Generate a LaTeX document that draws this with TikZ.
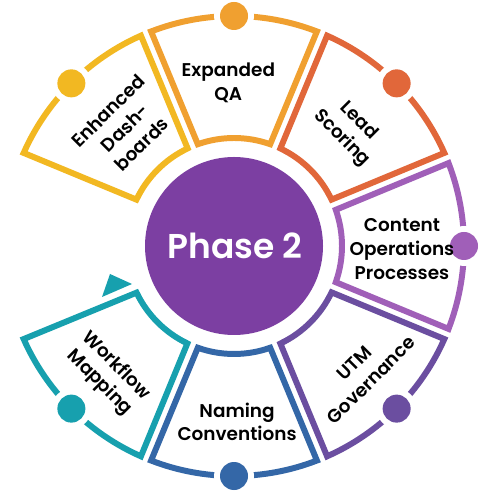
\documentclass[tikz,border=0pt]{standalone}
\usepackage{fontspec}
\setmainfont{Poppins}[BoldFont={Poppins SemiBold}]
\definecolor{dashyellow}{HTML}{F2B822}
\definecolor{qaorange}{HTML}{F0A030}
\definecolor{leadred}{HTML}{E1673A}
\definecolor{contentlilac}{HTML}{A05FB8}
\definecolor{utmviolet}{HTML}{6B4EA0}
\definecolor{namingblue}{HTML}{3467A7}
\definecolor{workflowteal}{HTML}{17A0AE}
\definecolor{phasepurple}{HTML}{7C3FA2}

\begin{document}
\begin{tikzpicture}[scale=0.02]
\tikzstyle{every node}+=[inner sep=0pt]
\tikzstyle{sectorline}=[line width=3.4pt, line join=miter, fill=white]
\tikzstyle{segtext}=[font=\fontsize{10.5}{13.5}\selectfont\bfseries, align=center, text=black]
\useasboundingbox (-234,-254) rectangle (266,246);
\fill [phasepurple] (0,0) circle (89);
\node (phase) at (1,0) {\fontsize{19.6}{24}\selectfont\bfseries\color{white}Phase 2};
\draw [qaorange, sectorline] (111.13:230) arc [start angle=111.13, end angle=68.87, radius=230] -- (70.42:108) arc [start angle=70.42, end angle=109.58, radius=108] -- cycle;
\fill [white] (90:230) circle (20);
\fill [qaorange] (90:230) circle (14);
\node (qa) at (92:163) [segtext] {Expanded\\QA};
\draw [leadred, sectorline] (66.13:230) arc [start angle=66.13, end angle=23.87, radius=230] -- (25.42:108) arc [start angle=25.42, end angle=64.58, radius=108] -- cycle;
\fill [white] (45:230) circle (20);
\fill [leadred] (45:230) circle (14);
\node (lead) at (45:164) [segtext, rotate=-45] {Lead\\Scoring};
\draw [contentlilac, sectorline] (21.13:230) arc [start angle=21.13, end angle=-21.13, radius=230] -- (-19.58:108) arc [start angle=-19.58, end angle=19.58, radius=108] -- cycle;
\fill [white] (0:230) circle (20);
\fill [contentlilac] (0:230) circle (14);
\node (content) at (-1:168) [segtext] {Content\\Operations\\Processes};
\draw [utmviolet, sectorline] (-23.87:230) arc [start angle=-23.87, end angle=-66.13, radius=230] -- (-64.58:108) arc [start angle=-64.58, end angle=-25.42, radius=108] -- cycle;
\fill [white] (-45:230) circle (20);
\fill [utmviolet] (-45:230) circle (14);
\node (utm) at (-44.3:180) [segtext, rotate=45] {UTM\\Governance};
\draw [namingblue, sectorline] (-68.87:230) arc [start angle=-68.87, end angle=-111.13, radius=230] -- (-109.58:108) arc [start angle=-109.58, end angle=-70.42, radius=108] -- cycle;
\fill [white] (-90:230) circle (20);
\fill [namingblue] (-90:230) circle (14);
\node (naming) at (-89:176) [segtext] {Naming\\Conventions};
\draw [workflowteal, sectorline] (-113.87:230) arc [start angle=-113.87, end angle=-156.13, radius=230] -- (-154.42:108) arc [start angle=-154.42, end angle=-115.58, radius=108] -- cycle;
\fill [white] (-135:230) circle (20);
\fill [workflowteal] (-135:230) circle (14);
\node (workflow) at (-134.5:180) [segtext, rotate=-45] {Workflow\\Mapping};
\fill [workflowteal] (-124,-28) -- (-102,-38) -- (-132,-51) -- cycle;
\draw [dashyellow, sectorline] (156.13:230) arc [start angle=156.13, end angle=113.87, radius=230] -- (115.42:108) arc [start angle=115.42, end angle=154.58, radius=108] -- cycle;
\fill [white] (135:230) circle (20);
\fill [dashyellow] (135:230) circle (14);
\node (dash) at (132.7:161) [segtext, rotate=45] {Enhanced\\Dash-\\boards};
\end{tikzpicture}
\end{document}
